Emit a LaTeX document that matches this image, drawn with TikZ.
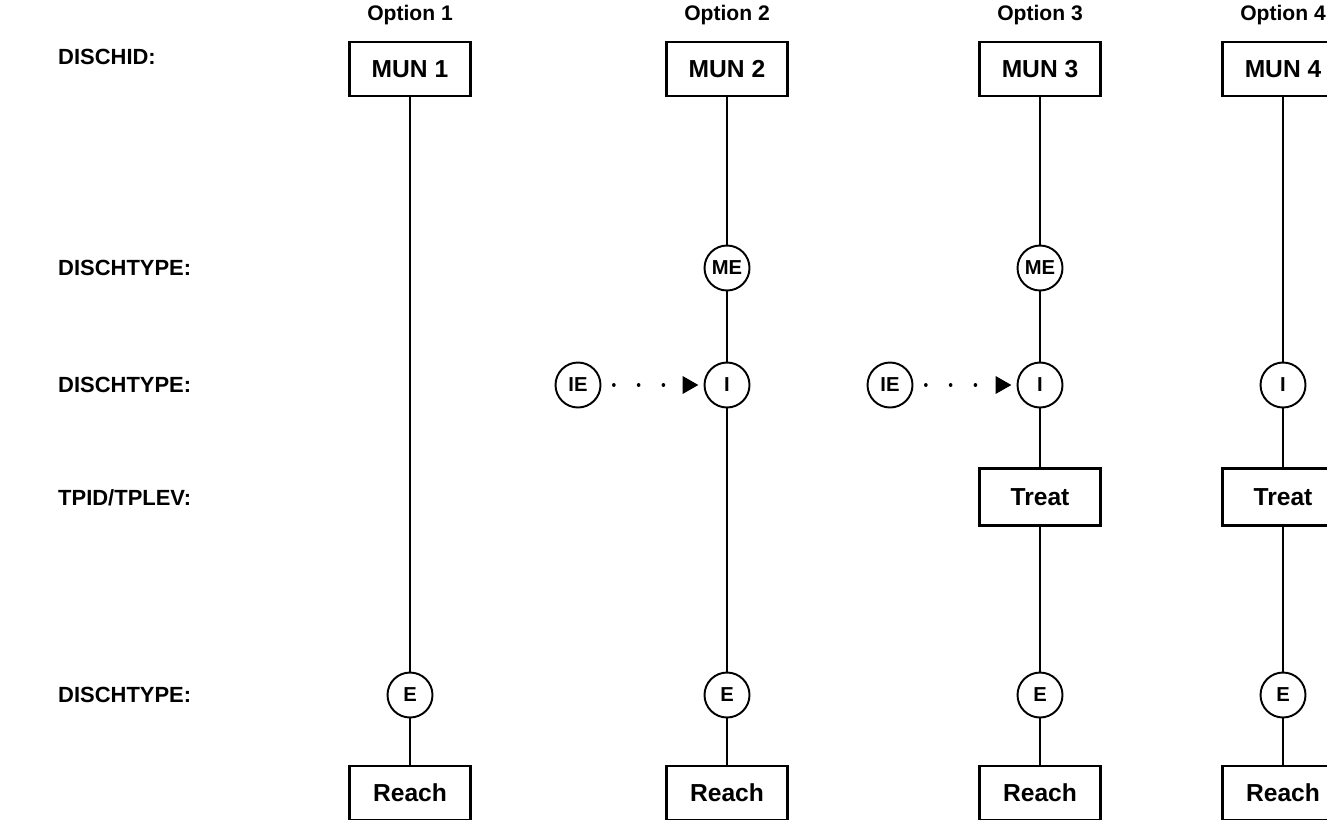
\documentclass[tikz,border=0pt]{standalone}
\usepackage{fontspec}
\setmainfont{Liberation Sans}
\usetikzlibrary{arrows.meta}

\begin{document}
\begin{tikzpicture}[x=0.02cm, y=-0.02cm,
	box/.style={draw, line width=1.2pt, minimum width=2.42cm, minimum height=1.08cm, inner sep=0pt, font=\fontsize{14}{16}\selectfont\bfseries},
	disc/.style={draw, line width=1.1pt, circle, minimum size=0.9cm, inner sep=0pt, font=\fontsize{11.5}{13}\selectfont\bfseries},
	opt/.style={font=\fontsize{12}{14}\selectfont\bfseries},
	level/.style={anchor=west, font=\fontsize{12.5}{15}\selectfont\bfseries},
	link/.style={line width=1.2pt},
	feed/.style={line width=2pt, line cap=round, dash pattern=on 0.1pt off 14pt, dash phase=7.1pt, shorten >=0.1cm, -{Triangle[length=0.32cm, width=0.34cm]}}]
			\path[use as bounding box] (0,0) rectangle (1327,819);
			\clip (0,0) rectangle (1327,819);
			
			% Row labels
			\node[level] (lid) at (52,57) {DISCHID:};
			\node[level] (ltype1) at (52,268) {DISCHTYPE:};
			\node[level] (ltype2) at (52,385) {DISCHTYPE:};
			\node[level] (ltp) at (52,498) {TPID/TPLEV:};
			\node[level] (ltype3) at (52,695) {DISCHTYPE:};
			
			% Option 1
			\node[opt] (opt1) at (410,15) {Option 1};
			\node[box] (mun1) at (410,69) {MUN 1};
			\node[disc] (e1) at (410,695) {E};
			\node[box] (reach1) at (410,793) {Reach};
			\draw[link] (mun1) -- (e1);
			\draw[link] (e1) -- (reach1);
			
			% Option 2
			\node[opt] (opt2) at (727,15) {Option 2};
			\node[box] (mun2) at (727,69) {MUN 2};
			\node[disc] (me2) at (727,268) {ME};
			\node[disc] (ie2) at (578,385) {IE};
			\node[disc] (i2) at (727,385) {I};
			\node[disc] (e2) at (727,695) {E};
			\node[box] (reach2) at (727,793) {Reach};
			\draw[link] (mun2) -- (me2);
			\draw[link] (me2) -- (i2);
			\draw[link] (i2) -- (e2);
			\draw[link] (e2) -- (reach2);
			\draw[feed] (ie2) -- (i2);
			
			% Option 3
			\node[opt] (opt3) at (1040,15) {Option 3};
			\node[box] (mun3) at (1040,69) {MUN 3};
			\node[disc] (me3) at (1040,268) {ME};
			\node[disc] (ie3) at (890,385) {IE};
			\node[disc] (i3) at (1040,385) {I};
			\node[box, minimum height=1.14cm] (treat3) at (1040,497) {Treat};
			\node[disc] (e3) at (1040,695) {E};
			\node[box] (reach3) at (1040,793) {Reach};
			\draw[link] (mun3) -- (me3);
			\draw[link] (me3) -- (i3);
			\draw[link] (i3) -- (treat3);
			\draw[link] (treat3) -- (e3);
			\draw[link] (e3) -- (reach3);
			\draw[feed] (ie3) -- (i3);
			
			% Option 4
			\node[opt] (opt4) at (1283,15) {Option 4};
			\node[box] (mun4) at (1283,69) {MUN 4};
			\node[disc] (i4) at (1283,385) {I};
			\node[box, minimum height=1.14cm] (treat4) at (1283,497) {Treat};
			\node[disc] (e4) at (1283,695) {E};
			\node[box] (reach4) at (1283,793) {Reach};
			\draw[link] (mun4) -- (i4);
			\draw[link] (i4) -- (treat4);
			\draw[link] (treat4) -- (e4);
			\draw[link] (e4) -- (reach4);
		\end{tikzpicture}
\end{document}
